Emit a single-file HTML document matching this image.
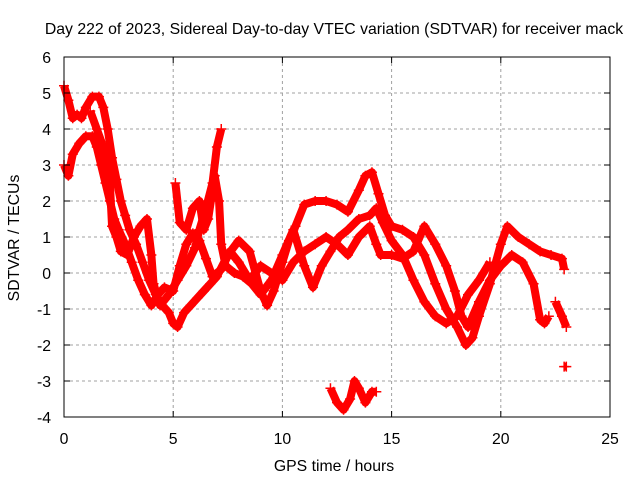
<!DOCTYPE html>
<html><head><meta charset="utf-8"><style>
body{margin:0;background:#fff}
svg text{font-family:"Liberation Sans",sans-serif;font-size:15.8px;fill:#000}
</style></head><body>
<svg id="c" width="640" height="480">
<rect width="640" height="480" fill="#fff"/>
<text x="334" y="34" text-anchor="middle">Day 222 of 2023, Sidereal Day-to-day VTEC variation (SDTVAR) for receiver mack</text>
<text x="334" y="471" text-anchor="middle">GPS time / hours</text>
<text transform="translate(19,238) rotate(-90)" text-anchor="middle">SDTVAR / TECUs</text>
<g id="grid"></g>
<g id="series"></g>
<rect x="64" y="57" width="546" height="360" fill="none" stroke="#000"/>
<g id="ticks"></g>
</svg>
<script>
const xTicks=[0,5,10,15,20,25];
const yTicks=[-4,-3,-2,-1,0,1,2,3,4,5,6];
const trackA=[[0,5.2],[0.2,4.8],[0.4,4.3],[0.6,4.4],[0.8,4.3],[1,4.6],[1.3,4.9],[1.6,4.9],[1.8,4.6],[2,4.0],[2.2,3.2],[2.4,2.6],[2.6,2.0],[2.8,1.6],[3,1.2],[3.3,0.8],[3.6,0.3],[3.9,-0.2],[4.2,-0.6],[4.5,-0.9],[4.8,-1.1],[5.0,-1.4],[5.2,-1.5],[5.5,-1.1],[5.8,-0.9],[6.1,-0.7],[6.4,-0.5],[6.7,-0.3],[7,-0.1],[7.5,0.5],[8,0.9],[8.5,0.6],[9,-0.5],[9.3,-0.9],[9.6,-0.5],[10,0.3],[10.3,0.9],[10.6,1.3],[11,1.9],[11.5,2.0],[12,2.0],[12.5,1.9],[13,1.7],[13.5,2.3],[13.8,2.7],[14.1,2.8],[14.4,2.2],[14.7,1.6],[15,1.3],[15.5,1.2],[16,1.0],[16.5,0.5],[17,-0.3],[17.5,-1.0],[18,-1.5],[18.4,-2.0],[18.7,-1.8],[19,-1.2],[19.5,-0.3],[20,0.8],[20.3,1.3],[20.8,1.0],[21.3,0.8],[21.8,0.6],[22.3,0.5],[22.8,0.4],[22.9,0.1]];
const trackB=[[0,3.0],[0.2,2.7],[0.4,3.3],[0.7,3.6],[1,3.8],[1.3,3.8],[1.5,3.5],[1.7,3.0],[1.9,2.5],[2.1,2.0],[2.3,1.5],[2.5,1.2],[2.8,0.8],[3.1,0.3],[3.4,-0.2],[3.7,-0.6],[4,-0.9],[4.3,-0.6],[4.6,-0.4],[5,-0.5],[5.3,0.2],[5.6,0.8],[5.9,1.1],[6.2,0.9],[6.5,0.4],[6.8,-0.1],[7.2,0.1],[7.6,0.6],[8,0.3],[8.5,-0.2],[9,0.2],[10,-0.2],[10.5,0.3],[11,0.6],[11.5,0.8],[12,1.0],[12.5,0.8],[13,0.5],[13.5,1.0],[14,1.3],[14.3,0.8],[14.5,0.5],[15,0.5],[15.5,0.4],[16,0.6],[16.5,1.3],[17,0.8],[17.5,0.2],[17.9,-0.5],[18.2,-1.2],[18.5,-1.5],[19,-0.8],[19.5,-0.2],[20,0.2],[20.5,0.5],[21,0.3],[21.5,-0.3],[21.8,-1.3],[22,-1.4],[22.2,-1.2]];
const trackC=[[1.2,4.5],[1.5,4.0],[1.8,3.5],[2.1,2.5],[2.2,1.3],[2.4,1.0],[2.6,0.6],[2.9,0.5],[3.2,1.0],[3.5,1.3],[3.8,1.5],[4.0,0.5],[4.1,-0.3],[4.4,-0.9],[4.8,-0.6],[5.2,-0.2],[5.6,0.2],[6.0,0.7],[6.2,1.2],[6.5,1.8],[6.8,2.5],[7.0,3.5],[7.2,4.0]];
const trackD=[[5.1,2.5],[5.3,1.4],[5.6,1.2],[5.9,1.8],[6.2,2.0],[6.4,1.2],[6.6,1.5],[6.9,2.7],[7.1,2.0],[7.2,0.8],[7.4,0.2],[7.8,0.0],[8.2,-0.1],[8.6,-0.3],[9,-0.6],[9.5,-0.2],[10,0.5],[10.5,1.2],[11,0.2],[11.4,-0.4],[11.8,0.2],[12.2,0.6],[12.6,1.0],[13,1.2],[13.5,1.5],[14,1.6],[14.3,1.8],[14.6,1.4],[15,0.9],[15.5,0.5],[16,-0.2],[16.5,-0.8],[17,-1.2],[17.5,-1.4],[18,-1.2],[18.5,-0.6],[19,-0.2],[19.5,0.3]];
const trackE=[[22.5,-0.8],[22.8,-1.2],[23,-1.5]];
const trackF=[[12.2,-3.2],[12.5,-3.6],[12.8,-3.8],[13.1,-3.5],[13.3,-3.0],[13.5,-3.2],[13.8,-3.6],[14.1,-3.3],[14.3,-3.3]];
const trackG=[[22.9,-2.6],[23,-2.6]];
const series=[trackA,trackB,trackC,trackD,trackE,trackF,trackG];
const X=v=>64+v*546/25, Y=v=>417-(v+4)*36;
const NS="http://www.w3.org/2000/svg";
function mk(t,a,p){const e=document.createElementNS(NS,t);for(const k in a)e.setAttribute(k,a[k]);p.appendChild(e);return e;}
const grid=document.getElementById('grid'),ticks=document.getElementById('ticks'),ser=document.getElementById('series'),svg=document.getElementById('c');
xTicks.forEach(t=>{
 if(t>0&&t<25){const g=mk('line',{x1:X(t),x2:X(t),y1:57,y2:417,stroke:'#a0a0a0','stroke-dasharray':'3,3'},grid);
 
 }
 mk('line',{x1:X(t),x2:X(t),y1:417,y2:411,stroke:'#000'},ticks);
 mk('line',{x1:X(t),x2:X(t),y1:57,y2:63,stroke:'#000'},ticks);
 const l=mk('text',{x:X(t),y:444,'text-anchor':'middle'},svg);l.textContent=t;
 
 
});
yTicks.forEach(t=>{
 if(t>-4&&t<6){const g=mk('line',{x1:64,x2:610,y1:Y(t),y2:Y(t),stroke:'#a0a0a0','stroke-dasharray':'3,3'},grid);
 
 }
 mk('line',{x1:64,x2:70,y1:Y(t),y2:Y(t),stroke:'#000'},ticks);
 mk('line',{x1:610,x2:604,y1:Y(t),y2:Y(t),stroke:'#000'},ticks);
 const l=mk('text',{x:51,y:Y(t)+6,'text-anchor':'end'},svg);l.textContent=t;
 
 
});
series.forEach((s,i)=>{
 const p=mk('polyline',{points:s.map(d=>X(d[0])+','+Y(d[1])).join(' '),fill:'none',stroke:'#f00','stroke-width':8,'stroke-linejoin':'round'},ser);
 
 
 s.forEach(d=>{const x=X(d[0]),y=Y(d[1]);
  const m=mk('path',{d:`M${x-5},${y}h10M${x},${y-5}v10`,stroke:'#f00','stroke-width':1.5},ser);
  
  });
});
</script>
</body></html>
